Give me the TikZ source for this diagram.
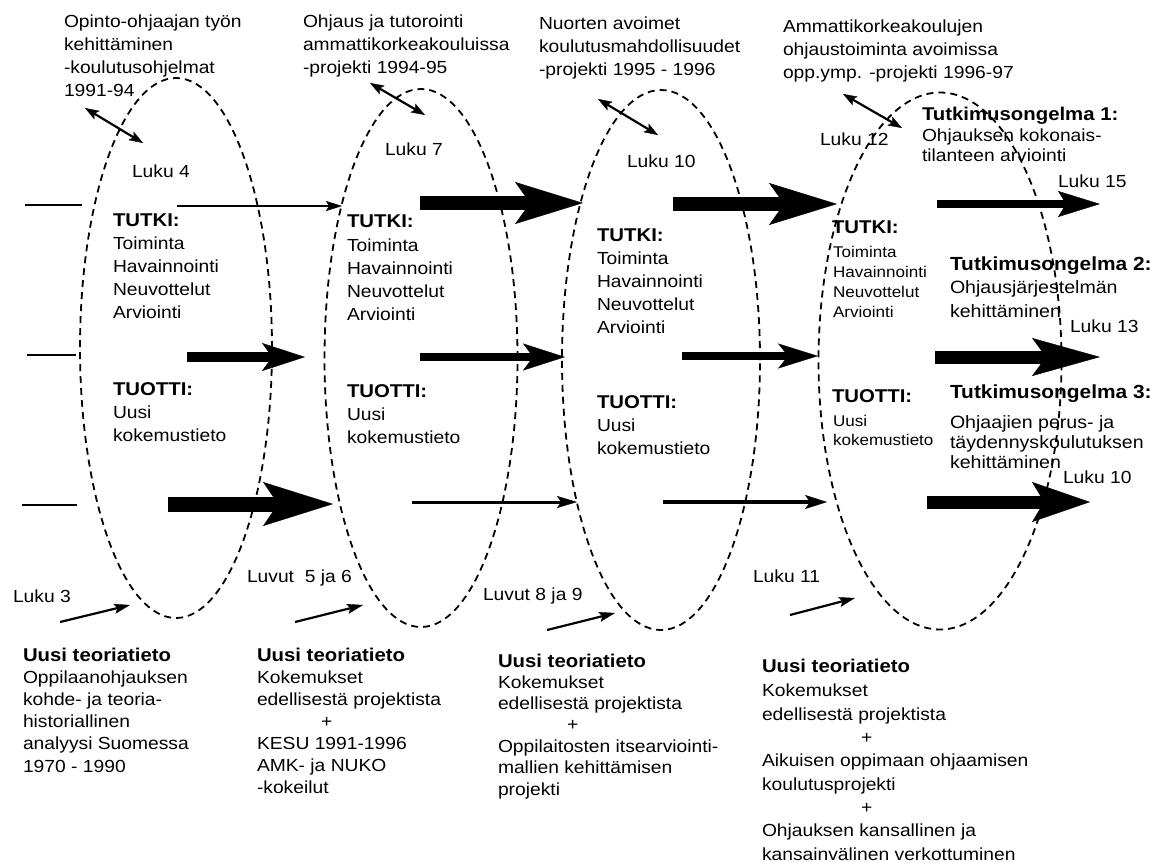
\documentclass[tikz,border=0pt]{standalone}
\usepackage{fontspec}
\setmainfont{Liberation Sans}[FakeStretch=1.1]
\usetikzlibrary{arrows.meta,shapes.geometric}

% Multi-line nodes are placed by the baseline of their last line.
\begin{document}
\begin{tikzpicture}[x=1pt,y=-1pt,
  cycleoval/.style={draw, ellipse, dash pattern=on 7pt off 5pt, line width=1.8pt,
    inner sep=0pt, outer sep=0pt},
  txt/.style={anchor=base west, inner sep=0pt, outer sep=0pt, align=left,
    font=\fontsize{17.5}{23}\selectfont},
  txttight/.style={txt, font=\fontsize{17.5}{20}\selectfont},
  txtsmall/.style={txt, font=\fontsize{15.5}{20}\selectfont},
  headtxt/.style={txt, font=\fontsize{18.5}{23}\selectfont\bfseries},
  stub/.style={line width=2.2pt},
  thinarrow/.style={line width=2.2pt,
    -{Stealth[length=16pt,width=10pt,inset=3pt,line width=0.4pt]}},
  twoway/.style={line width=2.2pt,
    {Stealth[length=14pt,width=10pt,inset=3pt,line width=0.4pt]}-{Stealth[length=14pt,width=10pt,inset=3pt,line width=0.4pt]}},
  blockarrow/.style n args={4}{line width=#1,
    -{Stealth[length=#2,width=#3,inset=#4,line width=0.4pt]}},
]
\fill[white] (0,0) rectangle (1155,862);
\useasboundingbox (0,0) rectangle (1155,862);

% the four project cycles
\node[cycleoval, minimum width=192pt, minimum height=540pt] (e1) at (176,348) {};
\node[cycleoval, minimum width=193pt, minimum height=538pt] (e2) at (421,358) {};
\node[cycleoval, minimum width=198pt, minimum height=540pt] (e3) at (661,360) {};
\node[cycleoval, minimum width=243pt, minimum height=537pt] (e4) at (940,361) {};

% project titles
\node[txt] (t1) at (64,96) {Opinto-ohjaajan työn\\kehittäminen\\-koulutusohjelmat\\1991-94};
\node[txt] (t2) at (303,73) {Ohjaus ja tutorointi\\ammattikorkeakouluissa\\-projekti 1994-95};
\node[txt] (t3) at (539,75) {Nuorten avoimet\\koulutusmahdollisuudet\\-projekti 1995 - 1996};
\node[txt] (t4) at (783,78) {Ammattikorkeakoulujen\\ohjaustoiminta avoimissa\\opp.ymp. -projekti 1996-97};

% links between titles and cycles
\coordinate (d1a) at (85,108);  \coordinate (d1b) at (143,143);
\coordinate (d2a) at (370,83);  \coordinate (d2b) at (425,115);
\coordinate (d3a) at (598,99);  \coordinate (d3b) at (658,135);
\coordinate (d4a) at (843,94);  \coordinate (d4b) at (902,128);
\draw[twoway] (d1a) -- (d1b);
\draw[twoway] (d2a) -- (d2b);
\draw[twoway] (d3a) -- (d3b);
\draw[twoway] (d4a) -- (d4b);

% chapter references at the top
\node[txt] (l4) at (132,177) {Luku 4};
\node[txt] (l7) at (385,155) {Luku 7};
\node[txt] (l10a) at (627,167) {Luku 10};
\node[txt] (l12) at (820,145) {Luku 12};
\node[txt] (l15) at (1058,187) {Luku 15};
\node[txt] (l13) at (1070,332) {Luku 13};
\node[txt] (l10b) at (1063,483) {Luku 10};

% contents of the cycles
\node[headtxt] (k1) at (113,226) {TUTKI:};
\node[txt] (k1b) at (113,318) {Toiminta\\Havainnointi\\Neuvottelut\\Arviointi};
\node[headtxt] (p1) at (113,395) {TUOTTI:};
\node[txt] (p1b) at (113,441) {Uusi\\kokemustieto};

\node[headtxt] (k2) at (347,227) {TUTKI:};
\node[txt] (k2b) at (347,320) {Toiminta\\Havainnointi\\Neuvottelut\\Arviointi};
\node[headtxt] (p2) at (347,397) {TUOTTI:};
\node[txt] (p2b) at (347,443) {Uusi\\kokemustieto};

\node[headtxt] (k3) at (597,241) {TUTKI:};
\node[txt] (k3b) at (597,333) {Toiminta\\Havainnointi\\Neuvottelut\\Arviointi};
\node[headtxt] (p3) at (597,408) {TUOTTI:};
\node[txt] (p3b) at (597,454) {Uusi\\kokemustieto};

\node[headtxt] (k4) at (832,233) {TUTKI:};
\node[txtsmall] (k4b) at (833,317) {Toiminta\\Havainnointi\\Neuvottelut\\Arviointi};
\node[headtxt] (p4) at (832,402) {TUOTTI:};
\node[txtsmall, font=\fontsize{15.5}{19}\selectfont] (p4b) at (833,445) {Uusi\\kokemustieto};

% research problems
\node[headtxt] (q1) at (922,120) {Tutkimusongelma 1:};
\node[txttight] (q1b) at (922,161) {Ohjauksen kokonais-\\tilanteen arviointi};
\node[headtxt, font=\fontsize{19}{23}\selectfont\bfseries] (q2) at (950,270) {Tutkimusongelma 2:};
\node[txt, font=\fontsize{17.8}{24}\selectfont] (q2b) at (950,317) {Ohjausjärjestelmän\\kehittäminen};
\node[headtxt, font=\fontsize{19}{23}\selectfont\bfseries] (q3) at (950,398) {Tutkimusongelma 3:};
\node[txt, font=\fontsize{17.8}{20}\selectfont] (q3b) at (950,468) {Ohjaajien perus- ja\\täydennyskoulutuksen\\kehittäminen};

% row 1
\coordinate (s1a) at (25,205);  \coordinate (s1b) at (82,205);
\coordinate (a1s) at (177,206); \coordinate (a1e) at (342,206);
\coordinate (a2s) at (420,203); \coordinate (a2e) at (583,203);
\coordinate (a3s) at (673,204); \coordinate (a3e) at (837,204);
\coordinate (a4s) at (937,204); \coordinate (a4e) at (1100,204);
\draw[stub] (s1a) -- (s1b);
\draw[thinarrow] (a1s) -- (a1e);
\draw[blockarrow={14pt}{68pt}{42pt}{15pt}] (a2s) -- (a2e);
\draw[blockarrow={14pt}{68pt}{42pt}{15pt}] (a3s) -- (a3e);
\draw[blockarrow={8pt}{42pt}{26pt}{8pt}] (a4s) -- (a4e);

% row 2
\coordinate (s2a) at (27,355);  \coordinate (s2b) at (76,355);
\coordinate (b1s) at (187,357); \coordinate (b1e) at (305,357);
\coordinate (b2s) at (420,357); \coordinate (b2e) at (565,357);
\coordinate (b3s) at (682,356); \coordinate (b3e) at (818,356);
\coordinate (b4s) at (935,357); \coordinate (b4e) at (1100,357);
\draw[stub] (s2a) -- (s2b);
\draw[blockarrow={10pt}{43pt}{28pt}{10pt}] (b1s) -- (b1e);
\draw[blockarrow={8pt}{42pt}{27pt}{10pt}] (b2s) -- (b2e);
\draw[blockarrow={8pt}{40pt}{25pt}{10pt}] (b3s) -- (b3e);
\draw[blockarrow={13pt}{68pt}{38pt}{14pt}] (b4s) -- (b4e);

% row 3
\coordinate (s3a) at (22,505);  \coordinate (s3b) at (77,505);
\coordinate (c1s) at (168,504); \coordinate (c1e) at (333,504);
\coordinate (c2s) at (412,502); \coordinate (c2e) at (577,502);
\coordinate (c3s) at (663,502); \coordinate (c3e) at (827,502);
\coordinate (c4s) at (927,502); \coordinate (c4e) at (1090,502);
\draw[stub] (s3a) -- (s3b);
\draw[blockarrow={15pt}{70pt}{44pt}{15pt}] (c1s) -- (c1e);
\draw[blockarrow={3pt}{20pt}{12pt}{4pt}] (c2s) -- (c2e);
\draw[blockarrow={3.5pt}{22pt}{14pt}{5pt}] (c3s) -- (c3e);
\draw[blockarrow={13pt}{58pt}{40pt}{12pt}] (c4s) -- (c4e);

% theory inputs
\coordinate (u1s) at (60,622);  \coordinate (u1e) at (130,605);
\coordinate (u2s) at (295,622); \coordinate (u2e) at (363,605);
\coordinate (u3s) at (547,630); \coordinate (u3e) at (615,613);
\coordinate (u4s) at (790,615); \coordinate (u4e) at (855,598);
\draw[thinarrow] (u1s) -- (u1e);
\draw[thinarrow] (u2s) -- (u2e);
\draw[thinarrow] (u3s) -- (u3e);
\draw[thinarrow] (u4s) -- (u4e);

\node[txt] (l3) at (13,602) {Luku 3};
\node[txt] (l56) at (247,582) {Luvut\ \ 5 ja 6};
\node[txt] (l89) at (483,600) {Luvut 8 ja 9};
\node[txt] (l11) at (753,582) {Luku 11};

\node[headtxt] (n1) at (23,661) {Uusi teoriatieto};
\node[txt, font=\fontsize{17.5}{22.2}\selectfont] (n1b) at (23,772) {Oppilaanohjauksen\\kohde- ja teoria-\\historiallinen\\analyysi Suomessa\\1970 - 1990};

\node[headtxt] (n2) at (257,661) {Uusi teoriatieto};
\node[txt, font=\fontsize{17.5}{22}\selectfont] (n2b) at (257,793) {Kokemukset\\edellisestä projektista\\\hspace*{64pt}+\\KESU 1991-1996\\AMK- ja NUKO\\-kokeilut};

\node[headtxt] (n3) at (498,667) {Uusi teoriatieto};
\node[txt, font=\fontsize{17.5}{21.4}\selectfont] (n3b) at (498,795) {Kokemukset\\edellisestä projektista\\\hspace*{69pt}+\\Oppilaitosten itsearviointi-\\mallien kehittämisen\\projekti};

\node[headtxt] (n4) at (762,672) {Uusi teoriatieto};
\node[txt, font=\fontsize{17.5}{23.3}\selectfont] (n4b) at (762,860) {Kokemukset\\edellisestä projektista\\\hspace*{99pt}+\\Aikuisen oppimaan ohjaamisen\\koulutusprojekti\\\hspace*{99pt}+\\Ohjauksen kansallinen ja\\kansainvälinen verkottuminen};
\end{tikzpicture}
\end{document}
